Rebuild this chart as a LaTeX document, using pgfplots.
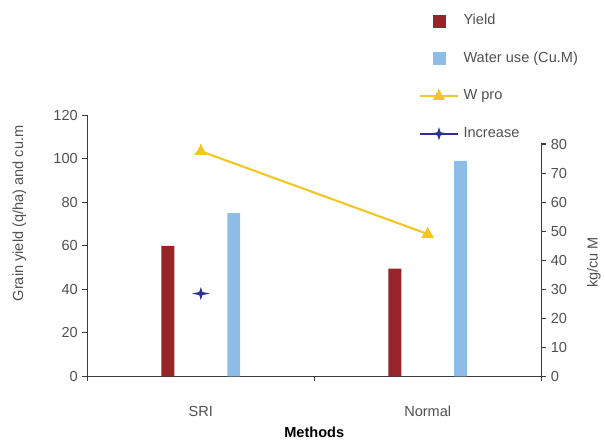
\documentclass[border=0pt]{standalone}
\usepackage{fontspec}
\setmainfont{Liberation Sans}
\usepackage{pgfplots}
\pgfplotsset{compat=1.18}
\definecolor{yieldc}{RGB}{150,36,41}
\definecolor{waterc}{RGB}{141,189,230}
\definecolor{wproc}{RGB}{242,198,36}
\definecolor{incc}{RGB}{46,49,146}
\definecolor{txtc}{RGB}{80,80,80}
\definecolor{axc}{RGB}{60,60,60}
\pgfdeclareplotmark{star4}{%
 \pgfpathmoveto{\pgfqpoint{0pt}{4.9pt}}%
 \pgfpathlineto{\pgfqpoint{1.2pt}{1.2pt}}%
 \pgfpathlineto{\pgfqpoint{6.75pt}{0pt}}%
 \pgfpathlineto{\pgfqpoint{1.2pt}{-1.2pt}}%
 \pgfpathlineto{\pgfqpoint{0pt}{-4.9pt}}%
 \pgfpathlineto{\pgfqpoint{-1.2pt}{-1.2pt}}%
 \pgfpathlineto{\pgfqpoint{-6.75pt}{0pt}}%
 \pgfpathlineto{\pgfqpoint{-1.2pt}{1.2pt}}%
 \pgfpathclose
 \pgfusepathqfill}
\pgfplotsset{
  yieldleg/.style={legend image code/.code={\path[draw=none,fill=none] (0pt,0pt) -- (28.5pt,0pt); \fill[yieldc] (9.75pt,-4.5pt) rectangle (18.75pt,4.5pt);}},
  waterleg/.style={legend image code/.code={\path[draw=none,fill=none] (0pt,0pt) -- (28.5pt,0pt); \fill[waterc] (9.75pt,-4.5pt) rectangle (18.75pt,4.5pt);}},
  wproleg/.style={legend image code/.code={\draw[wproc, line width=1.6pt] (0pt,0pt) -- (28.5pt,0pt); \fill[wproc] plot[mark=triangle*, mark size=5pt] coordinates {(14.25pt,0pt)};}},
  incleg/.style={legend image code/.code={\draw[incc, line width=1.6pt] (0pt,0pt) -- (28.5pt,0pt); \fill[incc] plot[mark=star4] coordinates {(14.25pt,0pt)};}},
}
\begin{document}
\begin{tikzpicture}
\path (-66pt,-45pt) rectangle (387.75pt,284.25pt);
\pgfplotsset{
  common/.style={
    scale only axis, width=342.75pt,
    at={(0pt,0pt)}, anchor=south west,
    xmin=-0.5, xmax=1.5, ymin=0,
    axis line style={-, draw=axc, line width=0.8pt},
    tick style={draw=axc, line width=0.8pt},
    tick align=outside, major tick length=3.75pt,
    tick label style={text=txtc, font=\fontsize{11}{13}\selectfont},
    /pgf/number format/assume math mode=true,
  }
}
\begin{axis}[common,
  height=197.25pt, ymax=120,
  axis x line*=bottom, axis y line*=left,
  ytick={0,20,...,120},
  xtick={-0.5,0.5,1.5}, xticklabels={},
  extra x ticks={0,1}, extra x tick labels={SRI,Normal},
  extra x tick style={major tick length=0pt, xticklabel style={yshift=-19pt}},
  xlabel={\bfseries Methods},
  xlabel style={at={(axis description cs:0.5,-0.216)}, anchor=center, font=\fontsize{11}{13}\selectfont},
  ylabel={Grain yield (q/ha) and cu.m},
  ylabel style={at={(axis description cs:-0.150,0.624)}, anchor=center, text=txtc, font=\fontsize{11}{13}\selectfont},
]
\addplot[ybar, bar shift=0pt, bar width=9.75pt, fill=yieldc, draw=none] coordinates {(-0.145,60) (0.855,49.5)};
\addplot[ybar, bar shift=0pt, bar width=9.75pt, fill=waterc, draw=none] coordinates {(0.145,75) (1.145,99)};
\end{axis}
\begin{axis}[common,
  height=175.5pt, ymax=80,
  axis x line=none, axis y line*=right,
  ytick={0,10,...,80},
  ylabel={kg/cu M},
  ylabel style={at={(axis description cs:1.116,0.49)}, anchor=center, text=txtc, font=\fontsize{11}{13}\selectfont},
  legend style={at={(rel axis cs:0.7309,1.57)}, anchor=north west, draw=none, fill=none,
    inner sep=0pt, outer sep=0pt, row sep=14.2pt, column sep=1.5pt,
    font=\fontsize{11}{13}\selectfont, text=txtc,
    nodes={text height=8pt, text depth=2.2pt, inner sep=2pt}},
  legend cell align=left,
  clip=false,
]
\addlegendimage{yieldleg}
\addlegendentry{Yield}
\addlegendimage{waterleg}
\addlegendentry{Water use (Cu.M)}
\addplot[wproc, line width=1.6pt, mark=triangle*, mark size=5pt, mark options={fill=wproc, draw=wproc, line width=0pt}, wproleg]
  coordinates {(0,77.5) (1,49)};
\addlegendentry{W pro}
\addplot[incc, only marks, mark=star4, mark options={fill=incc}, incleg]
  coordinates {(0,28.5)};
\addlegendentry{Increase}
\end{axis}
\end{tikzpicture}
\end{document}
